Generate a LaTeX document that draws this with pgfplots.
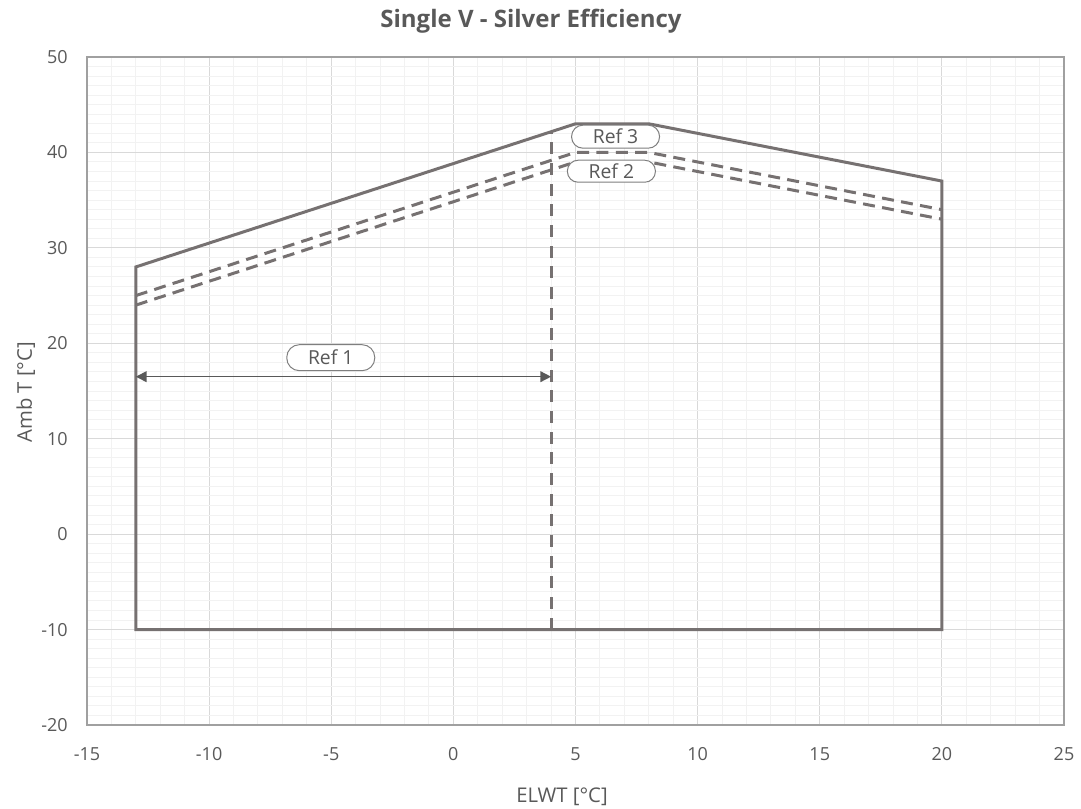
\documentclass[border=0pt]{standalone}
\usepackage{pgfplots}
\pgfplotsset{compat=1.18}
\usepackage{fontspec}
\setmainfont{Open Sans}
\usetikzlibrary{arrows.meta}
\definecolor{linegray}{HTML}{767171}
\definecolor{txtgray}{HTML}{595959}
\definecolor{majgrid}{HTML}{D9D9D9}
\definecolor{mingrid}{HTML}{F2F2F2}
\definecolor{axgray}{HTML}{A0A0A0}
\definecolor{boxgray}{HTML}{7F7F7F}
\begin{document}
\begin{tikzpicture}
\useasboundingbox (-65.25pt,-62.25pt) rectangle (745.5pt,543.75pt);
\begin{axis}[
  scale only axis, width=732.75pt, height=501pt,
  xmin=-15, xmax=25, ymin=-20, ymax=50,
  xtick={-15,-10,...,25}, ytick={-20,-10,...,50},
  minor x tick num=4, minor y tick num=9,
  grid=both,
  major grid style={color=majgrid, line width=0.75pt},
  minor grid style={color=mingrid, line width=0.75pt},
  axis line style={color=axgray, line width=0.9pt},
  major tick length=0pt, minor tick length=0pt,
  tick label style={font=\fontsize{13.5}{16}\selectfont, text=txtgray},
  /pgf/number format/assume math mode=true,
  xticklabel style={inner sep=0pt, anchor=north, yshift=-16.5pt},
  yticklabel style={inner sep=0pt, anchor=east, xshift=-14.25pt},
  clip=false,
]
\addplot[color=linegray, line width=2.25pt, line join=miter] coordinates {
  (-13,-10) (-13,28) (5,43) (8,43) (20,37) (20,-10) (-13,-10)
} -- cycle;
\addplot[color=linegray, line width=2.25pt, dash pattern=on 9pt off 5.5pt] coordinates {
  (-13,25) (5,40) (8,40) (20,34)
};
\addplot[color=linegray, line width=2.25pt, dash pattern=on 9pt off 5.5pt] coordinates {
  (-13,24) (5,39) (8,39) (20,33)
};
\addplot[color=linegray, line width=2.25pt, dash pattern=on 9pt off 6.5pt] coordinates {
  (4,-10) (4,42.17)
};
\addplot[color=txtgray, line width=1.1pt, {Triangle[length=8pt,width=8pt]}-{Triangle[length=8pt,width=8pt]}] coordinates {
  (-13,16.5) (4,16.5)
};
\node[draw=boxgray, line width=0.75pt, fill=white, rounded corners=8.5pt, minimum width=66pt, minimum height=17.25pt, inner sep=0pt, font=\fontsize{14.5}{17}\selectfont, text=txtgray] at (axis cs:6.64,41.65) {Ref 3};
\node[draw=boxgray, line width=0.75pt, fill=white, rounded corners=8pt, minimum width=66pt, minimum height=16.5pt, inner sep=0pt, font=\fontsize{14.5}{17}\selectfont, text=txtgray] at (axis cs:6.47,38.03) {Ref 2};
\node[draw=boxgray, line width=0.75pt, fill=white, rounded corners=9.5pt, minimum width=66pt, minimum height=19.5pt, inner sep=0pt, font=\fontsize{14.5}{17}\selectfont, text=txtgray] at (axis cs:-5.02,18.49) {Ref 1};
\end{axis}
\node[anchor=base, inner sep=0pt, font=\fontsize{18}{22}\selectfont\bfseries, text=txtgray] at (333pt,522.75pt) {Single V - Silver Efficiency};
\node[anchor=base, inner sep=0pt, font=\fontsize{15.2}{18}\selectfont, text=txtgray] at (356.25pt,-57.75pt) {ELWT [°C]};
\node[anchor=base, rotate=90, inner sep=0pt, font=\fontsize{15.2}{18}\selectfont, text=txtgray] at (-41.25pt,249.5pt) {Amb T [°C]};
\end{tikzpicture}
\end{document}
